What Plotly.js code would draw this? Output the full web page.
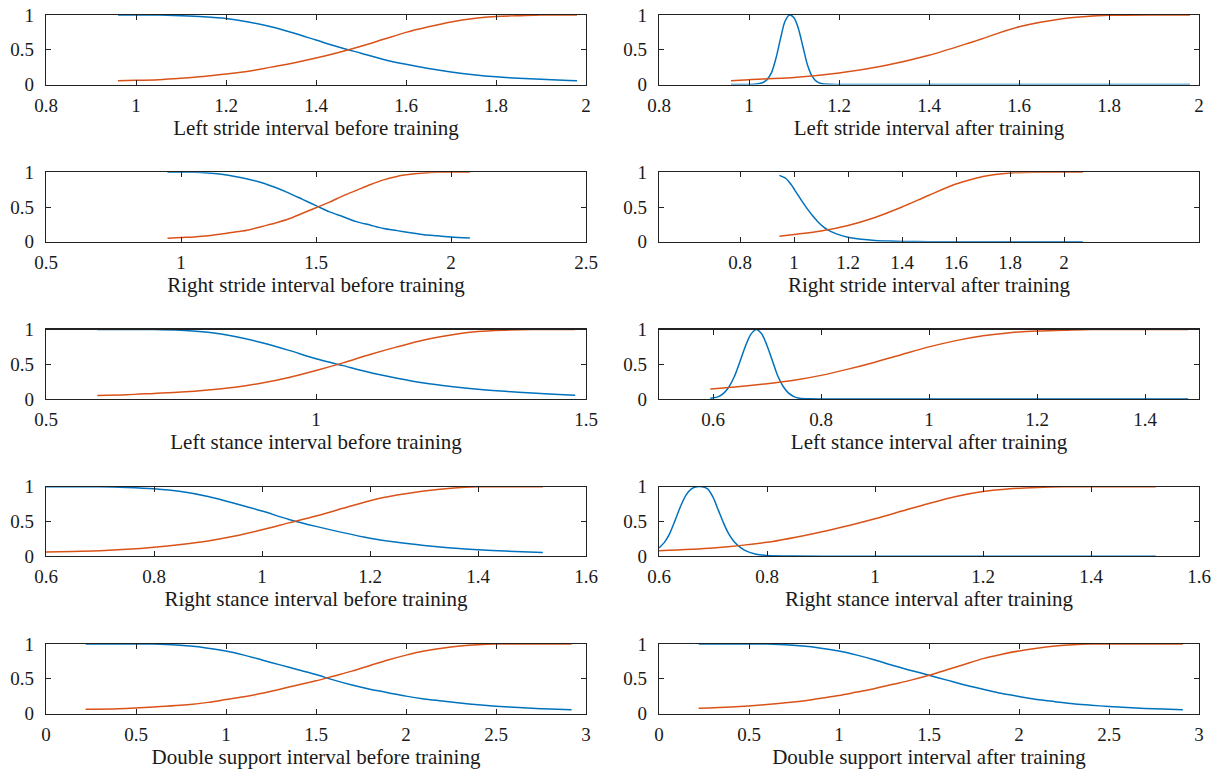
<!DOCTYPE html>
<html>
<head>
<meta charset="utf-8">
<script src="https://cdn.plot.ly/plotly-3.0.1.min.js"></script>
<style>
  html, body { margin: 0; padding: 0; background: #ffffff; }
  #chart { width: 1220px; height: 774px; }
</style>
</head>
<body>
<div id="chart"></div>
<script>
// ---------- Data ----------
// Titles of the ten panels (row-major: left = before, right = after)
const panelTitles = [
  "Left stride interval before training", "Left stride interval after training",
  "Right stride interval before training", "Right stride interval after training",
  "Left stance interval before training", "Left stance interval after training",
  "Right stance interval before training", "Right stance interval after training",
  "Double support interval before training", "Double support interval after training"
];

// Axis ranges and tick values
const xRanges = [[0.8, 2], [0.8, 2], [0.5, 2.5], [0.5, 2.5], [0.5, 1.5], [0.5, 1.5], [0.6, 1.6], [0.6, 1.6], [0, 3], [0, 3]];
const xTicks = [
  [0.8, 1, 1.2, 1.4, 1.6, 1.8, 2], [0.8, 1, 1.2, 1.4, 1.6, 1.8, 2],
  [0.5, 1, 1.5, 2, 2.5], [0.8, 1, 1.2, 1.4, 1.6, 1.8, 2],
  [0.5, 1, 1.5], [0.6, 0.8, 1, 1.2, 1.4],
  [0.6, 0.8, 1, 1.2, 1.4, 1.6], [0.6, 0.8, 1, 1.2, 1.4, 1.6],
  [0, 0.5, 1, 1.5, 2, 2.5, 3], [0, 0.5, 1, 1.5, 2, 2.5, 3]
];
const yTicks = [0, 0.5, 1];

// Panel 1: left stride before
const p1X = [0.96, 1.0, 1.05, 1.1, 1.15, 1.2, 1.25, 1.3, 1.35, 1.4, 1.45, 1.5, 1.55, 1.6, 1.65, 1.7, 1.75, 1.8, 1.85, 1.9, 1.95, 1.98];
const p1Blue = [1.0, 1.0, 1.0, 0.99, 0.975, 0.95, 0.9, 0.83, 0.74, 0.64, 0.54, 0.45, 0.36, 0.29, 0.23, 0.18, 0.14, 0.11, 0.09, 0.075, 0.06, 0.055];
const p1Orange = [0.055, 0.06, 0.07, 0.09, 0.115, 0.15, 0.19, 0.25, 0.31, 0.38, 0.46, 0.55, 0.65, 0.75, 0.83, 0.9, 0.95, 0.98, 0.99, 1.0, 1.0, 1.0];

// Panel 2: left stride after
const p2BlueX = [0.96, 1.0, 1.02, 1.03, 1.04, 1.05, 1.06, 1.07, 1.08, 1.09, 1.1, 1.11, 1.12, 1.13, 1.14, 1.15, 1.16, 1.18, 1.2, 1.4, 1.6, 1.8, 1.98];
const p2Blue = [0, 0, 0.01, 0.025, 0.07, 0.17, 0.38, 0.66, 0.91, 1.0, 0.96, 0.8, 0.54, 0.28, 0.12, 0.045, 0.015, 0.003, 0, 0, 0, 0, 0];
const p2OrangeX = [0.96, 1.0, 1.1, 1.2, 1.3, 1.4, 1.5, 1.6, 1.7, 1.75, 1.8, 1.9, 1.98];
const p2Orange = [0.055, 0.07, 0.1, 0.165, 0.27, 0.42, 0.62, 0.83, 0.95, 0.98, 0.995, 1, 1];

// Panel 3: right stride before
const p3X = [0.95, 1.0, 1.05, 1.1, 1.15, 1.2, 1.25, 1.3, 1.35, 1.4, 1.45, 1.5, 1.55, 1.6, 1.65, 1.7, 1.75, 1.8, 1.85, 1.9, 1.95, 2.0, 2.07];
const p3Blue = [1, 1, 1, 0.99, 0.97, 0.94, 0.9, 0.85, 0.78, 0.7, 0.61, 0.52, 0.43, 0.36, 0.29, 0.24, 0.19, 0.16, 0.13, 0.1, 0.085, 0.07, 0.055];
const p3Orange = [0.05, 0.06, 0.07, 0.085, 0.11, 0.14, 0.17, 0.22, 0.27, 0.33, 0.41, 0.49, 0.57, 0.66, 0.74, 0.82, 0.89, 0.94, 0.97, 0.99, 1, 1, 1];

// Panel 4: right stride after
const p4BlueX = [0.946, 0.97, 0.99, 1.01, 1.03, 1.05, 1.07, 1.09, 1.11, 1.13, 1.16, 1.2, 1.25, 1.3, 1.35, 1.4, 1.5, 1.6, 1.8, 2.07];
const p4Blue = [0.955, 0.91, 0.82, 0.7, 0.58, 0.47, 0.37, 0.28, 0.21, 0.16, 0.11, 0.065, 0.035, 0.018, 0.009, 0.004, 0.001, 0, 0, 0];
const p4OrangeX = [0.946, 1.0, 1.1, 1.2, 1.3, 1.4, 1.5, 1.6, 1.7, 1.8, 1.9, 2.0, 2.07];
const p4Orange = [0.08, 0.105, 0.155, 0.235, 0.35, 0.5, 0.67, 0.83, 0.94, 0.99, 1, 1, 1];

// Panel 5: left stance before
const p5X = [0.595, 0.65, 0.7, 0.75, 0.8, 0.85, 0.9, 0.95, 1.0, 1.05, 1.1, 1.15, 1.2, 1.25, 1.3, 1.35, 1.4, 1.45, 1.48];
const p5Blue = [1, 1, 1, 0.99, 0.96, 0.9, 0.81, 0.7, 0.58, 0.48, 0.38, 0.3, 0.23, 0.18, 0.14, 0.11, 0.085, 0.065, 0.055];
const p5Orange = [0.05, 0.06, 0.08, 0.1, 0.13, 0.17, 0.23, 0.31, 0.41, 0.52, 0.64, 0.75, 0.85, 0.92, 0.97, 0.99, 1, 1, 1];

// Panel 6: left stance after
const p6BlueX = [0.595, 0.61, 0.62, 0.63, 0.64, 0.65, 0.66, 0.67, 0.68, 0.69, 0.7, 0.71, 0.72, 0.73, 0.74, 0.75, 0.76, 0.78, 0.8, 1.0, 1.2, 1.48];
const p6Blue = [0.01, 0.035, 0.085, 0.18, 0.33, 0.54, 0.76, 0.93, 1.0, 0.94, 0.77, 0.55, 0.33, 0.18, 0.085, 0.035, 0.012, 0.002, 0, 0, 0, 0];
const p6OrangeX = [0.595, 0.65, 0.7, 0.75, 0.8, 0.85, 0.9, 0.95, 1.0, 1.05, 1.1, 1.15, 1.2, 1.25, 1.3, 1.4, 1.48];
const p6Orange = [0.145, 0.18, 0.22, 0.27, 0.34, 0.43, 0.53, 0.64, 0.75, 0.84, 0.91, 0.955, 0.98, 0.99, 1, 1, 1];

// Panel 7: right stance before
const p7X = [0.6, 0.65, 0.7, 0.75, 0.8, 0.85, 0.9, 0.95, 1.0, 1.05, 1.1, 1.15, 1.2, 1.25, 1.3, 1.35, 1.4, 1.45, 1.52];
const p7Blue = [1, 1, 1, 0.99, 0.97, 0.93, 0.86, 0.76, 0.65, 0.53, 0.43, 0.34, 0.26, 0.2, 0.155, 0.12, 0.095, 0.075, 0.055];
const p7Orange = [0.06, 0.07, 0.08, 0.1, 0.13, 0.17, 0.22, 0.29, 0.38, 0.48, 0.58, 0.69, 0.8, 0.88, 0.94, 0.98, 1, 1, 1];

// Panel 8: right stance after
const p8BlueX = [0.6, 0.61, 0.62, 0.63, 0.64, 0.65, 0.66, 0.67, 0.68, 0.69, 0.7, 0.71, 0.72, 0.73, 0.74, 0.75, 0.76, 0.78, 0.8, 0.85, 0.9, 1.2, 1.52];
const p8Blue = [0.12, 0.2, 0.33, 0.52, 0.72, 0.88, 0.97, 1.0, 1.0, 0.97, 0.85, 0.66, 0.47, 0.31, 0.2, 0.13, 0.08, 0.03, 0.012, 0.002, 0, 0, 0];
const p8OrangeX = [0.6, 0.7, 0.8, 0.9, 0.95, 1.0, 1.05, 1.1, 1.15, 1.2, 1.25, 1.3, 1.35, 1.4, 1.52];
const p8Orange = [0.08, 0.12, 0.2, 0.35, 0.44, 0.54, 0.65, 0.76, 0.86, 0.93, 0.97, 0.99, 1, 1, 1];

// Panel 9: double support before
const p9X = [0.22, 0.4, 0.6, 0.8, 0.9, 1.0, 1.1, 1.2, 1.3, 1.4, 1.5, 1.6, 1.7, 1.8, 1.9, 2.0, 2.1, 2.2, 2.3, 2.4, 2.5, 2.6, 2.7, 2.8, 2.92];
const p9Blue = [1, 1, 1, 0.97, 0.94, 0.9, 0.84, 0.77, 0.7, 0.63, 0.56, 0.48, 0.41, 0.35, 0.3, 0.25, 0.21, 0.18, 0.15, 0.125, 0.105, 0.09, 0.075, 0.065, 0.055];
const p9Orange = [0.06, 0.07, 0.095, 0.13, 0.16, 0.2, 0.24, 0.29, 0.35, 0.41, 0.47, 0.54, 0.61, 0.69, 0.77, 0.84, 0.9, 0.94, 0.97, 0.99, 1, 1, 1, 1, 1];

// Panel 10: double support after
const p10X = [0.22, 0.4, 0.6, 0.8, 0.9, 1.0, 1.1, 1.2, 1.3, 1.4, 1.5, 1.6, 1.7, 1.8, 1.9, 2.0, 2.1, 2.2, 2.3, 2.4, 2.5, 2.6, 2.7, 2.8, 2.91];
const p10Blue = [1, 1, 1, 0.97, 0.94, 0.9, 0.84, 0.77, 0.69, 0.62, 0.55, 0.48, 0.41, 0.35, 0.29, 0.245, 0.2, 0.17, 0.14, 0.12, 0.1, 0.085, 0.073, 0.063, 0.055];
const p10Orange = [0.075, 0.095, 0.13, 0.18, 0.22, 0.26, 0.31, 0.36, 0.42, 0.48, 0.55, 0.63, 0.71, 0.79, 0.85, 0.9, 0.94, 0.97, 0.99, 1, 1, 1, 1, 1, 1];

// ---------- Build the figure ----------
const blueColor = "#0072BD";
const orangeColor = "#D95319";
const panels = [
  { bx: p1X, by: p1Blue, ox: p1X, oy: p1Orange },
  { bx: p2BlueX, by: p2Blue, ox: p2OrangeX, oy: p2Orange },
  { bx: p3X, by: p3Blue, ox: p3X, oy: p3Orange },
  { bx: p4BlueX, by: p4Blue, ox: p4OrangeX, oy: p4Orange },
  { bx: p5X, by: p5Blue, ox: p5X, oy: p5Orange },
  { bx: p6BlueX, by: p6Blue, ox: p6OrangeX, oy: p6Orange },
  { bx: p7X, by: p7Blue, ox: p7X, oy: p7Orange },
  { bx: p8BlueX, by: p8Blue, ox: p8OrangeX, oy: p8Orange },
  { bx: p9X, by: p9Blue, ox: p9X, oy: p9Orange },
  { bx: p10X, by: p10Blue, ox: p10X, oy: p10Orange }
];

const W = 1220, H = 774;
const colX = [[46, 586], [659, 1199]];
const rowTop0 = 15, rowStep = 157.25, rowH = 69.5;
const fontFam = "'Liberation Serif', 'DejaVu Serif', serif";
const textColor = "#1a1a1a";

const traces = [];
const layout = {
  width: W, height: H,
  margin: { l: 0, r: 0, t: 0, b: 0 },
  paper_bgcolor: "#ffffff", plot_bgcolor: "#ffffff",
  showlegend: false,
  font: { family: fontFam, size: 19, color: textColor }
};

panels.forEach((p, i) => {
  const n = i + 1;
  const suffix = n === 1 ? "" : String(n);
  const xa = "x" + suffix, ya = "y" + suffix;
  const row = Math.floor(i / 2), col = i % 2;
  traces.push({
    x: p.bx, y: p.by, xaxis: xa, yaxis: ya, type: "scatter", mode: "lines",
    line: { color: blueColor, width: 1.5, shape: "spline", smoothing: 0.8 },
    hoverinfo: "skip"
  });
  traces.push({
    x: p.ox, y: p.oy, xaxis: xa, yaxis: ya, type: "scatter", mode: "lines",
    line: { color: orangeColor, width: 1.5, shape: "spline", smoothing: 0.8 },
    hoverinfo: "skip"
  });
  const top = rowTop0 + row * rowStep;
  const bottom = top + rowH;
  const common = {
    showline: true, mirror: "ticks", linecolor: "#222222", linewidth: 1.2,
    ticks: "inside", ticklen: 5, tickwidth: 1, tickcolor: "#222222",
    showgrid: false, zeroline: false, fixedrange: true, automargin: false,
    tickfont: { family: fontFam, size: 19, color: textColor }
  };
  layout["xaxis" + suffix] = Object.assign({}, common, {
    domain: [colX[col][0] / W, colX[col][1] / W],
    anchor: ya, range: xRanges[i], tickmode: "array", tickvals: xTicks[i],
    ticklabelstandoff: 3,
    title: { text: panelTitles[i], font: { family: fontFam, size: 21, color: textColor }, standoff: 5 }
  });
  layout["yaxis" + suffix] = Object.assign({}, common, {
    domain: [1 - bottom / H, 1 - top / H],
    anchor: xa, range: [0, 1], tickmode: "array", tickvals: yTicks,
    ticklabelstandoff: 7
  });
});

Plotly.newPlot("chart", traces, layout, { staticPlot: true, displayModeBar: false });
</script>
</body>
</html>
